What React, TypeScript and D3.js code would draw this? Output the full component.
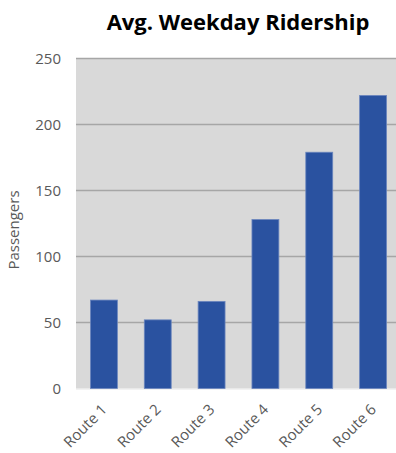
import React from "react";
import * as d3 from "d3";

const categories = ["Route 1", "Route 2", "Route 3", "Route 4", "Route 5", "Route 6"];
const values = [67, 52, 66, 128, 179, 222];
const yTicks = [0, 50, 100, 150, 200, 250];
const title = "Avg. Weekday Ridership";
const yLabel = "Passengers";

const W = 396;
const H = 453;
const M = { left: 76, top: 58.5, bottom: 64.5 };
const plotRight = 400;

export default function App() {
  const x = d3
    .scaleBand<string>()
    .domain(categories)
    .range([M.left + 1, plotRight])
    .paddingInner(0.5)
    .paddingOuter(0.25);
  const y = d3.scaleLinear().domain([0, 250]).range([H - M.bottom, M.top]);
  const font = "'Open Sans', 'Noto Sans', sans-serif";
  return (
    <svg
      width={W}
      height={H}
      style={{ position: "absolute", left: 0, top: 0, background: "#fff" }}
      fontFamily={font}
    >
      <text x={238} y={30} textAnchor="middle" fontSize={22} fontWeight="bold" fill="#000">
        {title}
      </text>
      <rect
        x={M.left}
        y={y(250)}
        width={W - M.left}
        height={y(0) - y(250)}
        fill="#d9d9d9"
      />
      {yTicks.slice(1).map((t) => (
        <line key={t} x1={M.left} x2={W} y1={y(t)} y2={y(t)} stroke="#a6a6a6" strokeWidth={1.5} />
      ))}
      <line x1={M.left} x2={W} y1={y(0) + 0.5} y2={y(0) + 0.5} stroke="#e6e6e6" strokeWidth={1} />
      {yTicks.map((t) => (
        <text key={t} x={61} y={y(t)} dy="0.36em" textAnchor="end" fontSize={15} fill="#595959">
          {t}
        </text>
      ))}
      <text
        transform={`translate(19,230) rotate(-90)`}
        textAnchor="middle"
        fontSize={15}
        fill="#595959"
      >
        {yLabel}
      </text>
      {categories.map((c, i) => (
        <rect
          key={c}
          x={x(c)!}
          y={y(values[i])}
          width={x.bandwidth()}
          height={y(0) - y(values[i])}
          fill="#2a52a0"
          stroke="#6b86be"
          strokeWidth={0.8}
        />
      ))}
      {categories.map((c) => (
        <text
          key={c}
          transform={`translate(${x(c)! + x.bandwidth() / 2 + 4},${y(0) + 22}) rotate(-45)`}
          textAnchor="end"
          fontSize={15}
          fill="#595959"
        >
          {c}
        </text>
      ))}
    </svg>
  );
}
